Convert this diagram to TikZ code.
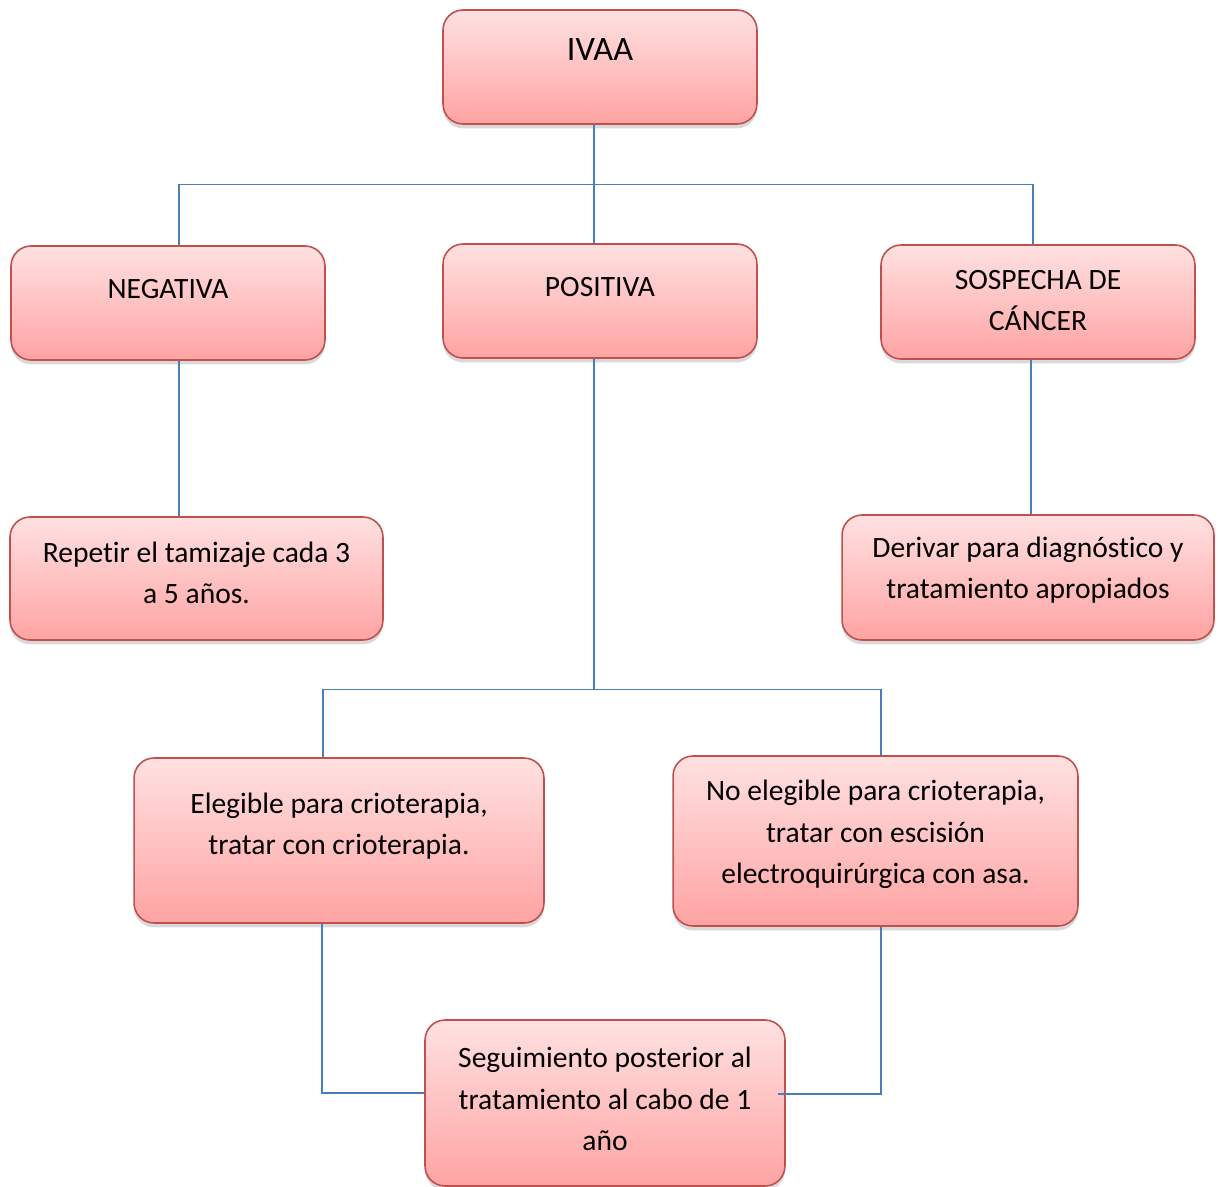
\documentclass[tikz,border=0pt]{standalone}
\usepackage{fontspec}
\setmainfont[Ligatures=NoCommon]{Carlito}
\usetikzlibrary{calc,shadows}
\definecolor{boxline}{HTML}{C0504D}
\definecolor{boxtop}{HTML}{FFE1E1}
\definecolor{boxbot}{HTML}{FFA3A3}
\definecolor{linkblue}{HTML}{4A7EBB}

\begin{document}
\begin{tikzpicture}[
    x=0.02cm, y=-0.02cm,
    box/.style={draw=boxline, line width=0.9pt, rounded corners=0.4cm, top color=boxtop, bottom color=boxbot,
        drop shadow={shadow xshift=0pt, shadow yshift=-2.5pt, opacity=0.3}},
    txt/.style={align=center, font=\fontsize{16.8}{23.5}\selectfont},
    link/.style={draw=linkblue, line width=0.8pt}
]
\useasboundingbox (0,0) rectangle (1218,1187);

% boxes
\node[box, minimum width=6.28cm, minimum height=2.28cm] (ivaa) at (600,67) {};
\node[box, minimum width=6.28cm, minimum height=2.28cm] (neg) at (168,303) {};
\node[box, minimum width=6.28cm, minimum height=2.28cm] (pos) at (600,301) {};
\node[box, minimum width=6.28cm, minimum height=2.28cm] (sosp) at (1038,302) {};
\node[box, minimum width=7.46cm, minimum height=2.46cm] (rep) at (196.5,578.5) {};
\node[box, minimum width=7.44cm, minimum height=2.5cm] (der) at (1028,577.5) {};
\node[box, minimum width=8.2cm, minimum height=3.3cm] (eleg) at (339,840.5) {};
\node[box, minimum width=8.1cm, minimum height=3.4cm] (noel) at (875.5,841) {};
\node[box, minimum width=7.2cm, minimum height=3.32cm] (seg) at (605,1103) {};

% texts
\node[txt, font=\fontsize{19.5}{23.5}\selectfont] (ivaa-t) at (600,50) {IVAA};
\node[txt] (neg-t) at (168,289) {NEGATIVA};
\node[txt] (pos-t) at (600,287) {POSITIVA};
\node[txt] (sosp-t) at (1038,300.5) {SOSPECHA DE\\CÁNCER};
\node[txt] (rep-t) at (196.5,573) {Repetir el tamizaje cada 3\\a 5 años.};
\node[txt] (der-t) at (1028,570) {Derivar para diagnóstico y\\tratamiento apropiados};
\node[txt] (eleg-t) at (339,826) {Elegible para crioterapia,\\tratar con crioterapia.};
\node[txt] (noel-t) at (875.5,834.5) {No elegible para crioterapia,\\tratar con escisión\\electroquirúrgica con asa.};
\node[txt] (seg-t) at (605,1099) {Seguimiento posterior al\\tratamiento al cabo de 1\\año};

% connectors
\coordinate (top-split) at ($(ivaa.south)+(-6,60)$);
\draw[link] ($(ivaa.south)+(-6,0)$) -- (top-split);
\draw[link] (top-split) -| ($(neg.north)+(11,0)$);
\draw[link] (top-split) -| ($(sosp.north)+(-5,0)$);
\draw[link] (top-split) -- (top-split |- pos.north);
\coordinate (neg-out) at ($(neg.south)+(11,0)$);
\draw[link] (neg-out) -- (neg-out |- rep.north);
\coordinate (sosp-out) at ($(sosp.south)+(-7,0)$);
\draw[link] (sosp-out) -- (sosp-out |- der.north);
\coordinate (mid-split) at ($(pos.south)+(-6,331)$);
\draw[link] ($(pos.south)+(-6,0)$) -- (mid-split);
\draw[link] (mid-split) -| ($(eleg.north)+(-16,0)$);
\draw[link] (mid-split) -| ($(noel.north)+(5.5,0)$);
\draw[link] ($(eleg.south)+(-17,0)$) |- ($(seg.west)+(0,-10)$);
\draw[link] ($(noel.south)+(5.5,0)$) |- ($(seg.east)+(-8,-9)$);
\end{tikzpicture}
\end{document}
